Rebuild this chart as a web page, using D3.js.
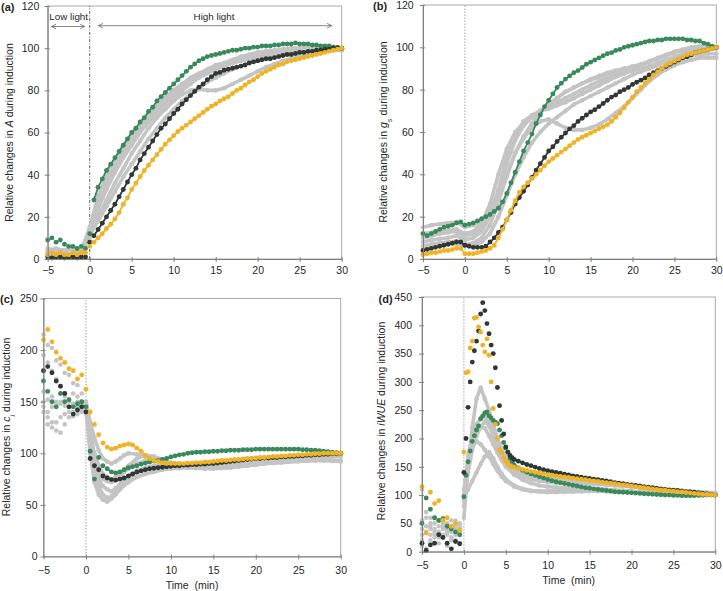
<!DOCTYPE html>
<html><head><meta charset="utf-8">
<script src="https://cdn.jsdelivr.net/npm/d3@7"></script>
<style>body{margin:0;background:#fff}svg{display:block}</style>
</head><body><svg id="chart" width="723" height="591"></svg>
<script>
// ---------- time grids ----------
const timeHalf = [-5,-4.5,-4,-3.5,-3,-2.5,-2,-1.5,-1,-0.5,0,0.5,1,1.5,2,2.5,3,3.5,4,4.5,5,5.5,6,6.5,7,7.5,8,8.5,9,9.5,10,10.5,11,11.5,12,12.5,13,13.5,14,14.5,15,15.5,16,16.5,17,17.5,18,18.5,19,19.5,20,20.5,21,21.5,22,22.5,23,23.5,24,24.5,25,25.5,26,26.5,27,27.5,28,28.5,29,29.5,30];
const timeMinute = [-5,-4,-3,-2,-1,0,1,2,3,4,5,6,7,8,9,10,11,12,13,14,15,16,17,18,19,20,21,22,23,24,25,26,27,28,29,30];
const timeGrayCD = [-5,-4.5,-4,-3.5,-3,-2.5,-2,-1.5,-1,-0.5,0,0.5,1,1.5,2,2.5,3,3.5,4,4.5,5,6,7,8,9,10,11,12,13,14,15,16,17,18,19,20,21,22,23,24,25,26,27,28,29,30];
const timeD = [-5,-4.5,-4,-3.5,-3,-2.5,-2,-1.5,-1,-0.5,0,0.25,0.5,0.75,1,1.25,1.5,1.75,2,2.25,2.5,2.75,3,3.25,3.5,3.75,4,4.25,4.5,4.75,5,5.25,5.5,5.75,6,6.5,7,7.5,8,8.5,9,9.5,10,10.5,11,11.5,12,12.5,13,13.5,14,14.5,15,15.5,16,16.5,17,17.5,18,18.5,19,19.5,20,20.5,21,21.5,22,22.5,23,23.5,24,24.5,25,25.5,26,26.5,27,27.5,28,28.5,29,29.5,30];

const xTicks = [-5,0,5,10,15,20,25,30];
const yTicksAB = [0,20,40,60,80,100,120];
const yTicksC = [0,50,100,150,200,250];
const yTicksD = [0,50,100,150,200,250,300,350,400,450];

// ---------- panel (a): A ----------
const aGreen = [9,10,8,9,7,6,6,5,6,5,12, 28,34,38,42,45,48,51,54,57,60, 62,65,67,70,72,75,77,79,81,83, 85,87,89,91,92.5,94,95,96,96.5,97, 97.5,98,98.5,99,99,99.5,100,100,100.5,100.5, 101,101,101,101.5,101.5,102,102,102,102.5,102, 102,102,101.5,101.5,101,101,101,100.5,100.5,100];
const aDark = [1,0.5,1,1,0.5,1,1,0.5,1,1,8, 11,14,17,20,23,26,29.5,33,36.5,40, 43,47,50,53,56,59,62,64,66.5,69, 71,73.5,75.5,77.5,79.5,81.5,83,85,86.5,88, 88.5,89.5,90,90.5,91,91.5,92,93,93.5,94, 94.5,95,95,95.5,96,96.5,97,97,97.5,98, 98,98.5,98.5,99,99,99.5,99.5,100,100,100];
const aYellow = [2,3,2,3,2,2,3,2,3,3,6, 8,10,12,14.5,16.5,19,22,26,29,33, 36,39,42,44.5,47,49.5,52,54.5,56.5,58.5, 60.5,62,63.5,65,66.5,68,69.5,71,72.5,73.5, 75,76,77,78.5,80,81,82.5,84,85,86.5, 88,89,90,91,92,92.5,93.5,94,94.5,95, 95.5,96,96.5,97,97.5,98,98.5,99,99.5,100];
const aGray1 = [3,4,2,3,3,12, 28,37,45,52,58,63,68,72,76,80, 83,86,88,90,92,93,94.5,96,97,98, 98.5,99,99.5,100,100,100.5,100.5,100.5,100.5,100];
const aGray2 = [2,3,2,2,3,11, 24,33,41,48,54,60,65,69,73,77, 80,83,86,88,90,91.5,93,94,95,96, 97,97.5,98,98.5,99,99,99.5,99.5,100,100];
const aGray3 = [4,5,4,5,4,10, 20,28,36,43,50,56,62,67,71,75, 78,80,80.5,80,80,81,83,85,87,89, 91,92.5,94,95,96,97,98,98.5,99,99];
const aGray4 = [1,2,1,2,2,14, 26,34,42,49,55,61,66,71,75,79, 82,85,87.5,89.5,91,92.5,94,95,96,97, 97.5,98,98.5,99,99,99.5,99.5,100,100,100];
const aGray5 = [3,2,3,2,2,12, 18,25,32,39,45,51,57,62,67,71, 75,78,81,84,86,88,90,91.5,93,94, 95,96,96.5,97,97.5,98,98.5,99,99,99];
const aGray6 = [5,4,4,5,4,15, 30,39,47,54,59,64,69,73,77,80, 83,85,87,89,90.5,92,93,94,95,95.5, 96,96.5,97,97.5,98,98,98.5,99,99,99];

// ---------- panel (b): gs ----------
const bGreen = [12,11,12,13,14,15,15.5,16,17,17.5,16, 16.5,17,18,19,20,21,22.5,24,27,31, 36,41,46,51,55,59,64,68,72,75, 78,81,83,85,86.5,88,89,90.5,92,93, 94,95,96,97,97.5,98.5,99,100,100.5,101, 101.5,102,102.5,103,103,103.5,103.5,104,104,104, 104,104,103.5,103.5,103,103,102,101.5,100.5,100];
const bDark = [4,4.5,5,5.5,6,6.5,7,7.5,8,8,6.5, 6,5.5,5.5,5.5,6,8,10,12.5,15,18.5, 22,26,29,32,35,38.5,42,45,48,51, 53,55.5,57.5,59.5,61.5,63,65,66.5,68,69.5, 70.5,72,73.5,75,76.5,77.5,79,80,81,82.5, 83.5,84.5,85.5,87,88,89,90,91,92,93, 94,95,95.5,96.5,97.5,98,98.5,99,99.5,100];
const bYellow = [2,2.5,3,3,3.5,4,4,4.5,5,5,2.5, 2.5,2.5,3,3.5,4,5,6.5,10,14,18.5, 23,27.5,31.5,34,36,38,40,42,44,46, 47.5,49,50.5,52,53.5,55,56.5,57.5,58.5,59.5, 60.5,61.5,62.5,63.5,65,67,69,71.5,74,76.5, 79,81,83,85,87,88.5,90,91.5,92.5,93.5, 94.5,95.5,96.5,97,97.5,98,98.5,99,99.5,100];
const bGray1 = [15,16,16.5,17,17.5,15, 16,18,22,32,45,56,63,67,70,72, 74,76,78,80,82,84,85.5,87,88,89, 90,91,92.5,94,95.5,97,98,99,99.5,100];
const bGray2 = [8,9,9.5,10,11,9, 10,13,20,33,48,59,65,68,70,71, 72.5,74,76,78,80,82,84,86,87.5,89, 90,91,92,93,94,95,96,96.5,97,97];
const bGray3 = [6,7,7.5,8,8.5,7, 7.5,10,16,27,39,50,57,62,65,66, 64,62,61,61,62,63.5,66,69,72,76, 80,84,87,89.5,91.5,93,94,95,95,95];
const bGray4 = [10,11,12,12.5,13,11, 12,15,21,30,40,50,58,64,69,73, 76,79,81,83,85,86.5,88,89,90,91, 92,93.5,95,96.5,98,99,100,100.5,100.5,100];
const bGray5 = [5,6,6,7,7,6, 6.5,8,12,20,30,40,48,55,60,64, 67,70,73,75,77,79,81,83,85,87, 88.5,90,91.5,93,94.5,96,97,98,99,99.5];
const bGray6 = [12,12.5,13,13.5,14,12, 13,17,26,40,52,60,64,67,70,73, 76,79,81,83,84.5,86,87,88,89,90, 91.5,93,94.5,96,97.5,98.5,99.5,100,100,100];

// ---------- panel (c): ci ----------
const cYellow = [210,220,208,198,192,188,182,180,172,176,162, 140,128,118,110,106,104,105,107,108,109, 108,105,102,98,95,93,92,91,90,90, 90,90,90,90.5,90.5,91,91,91.5,91.5,92, 92.5,93,93,93.5,94,94,94.5,95,95,95.5, 96,96,96.5,97,97,97.5,97.5,98,98,98.5, 98.5,99,99,99.5,99.5,100,100,100,100,100];
const cGreen = [170,160,150,145,158,150,152,145,148,150,145, 102,75,96,88,85,82,81,82,84,86, 87,88,89.5,90.5,91.5,92.5,93,94,95,96.5, 97.5,98.5,99,100,100.5,101,101,101.5,101.5,102, 102,102.5,102.5,103,103,103,103.5,103.5,103.5,104, 104,104,104,104,104,104,104,104,104,104, 103.5,103.5,103,103,102.5,102,101.5,101,100.5,100];
const cDark = [180,184,178,170,165,158,145,138,142,145,140, 95,88,84,78,76,74.5,74,75,76,78, 80,82,83,84,85,85.5,86,86.5,87,87.5, 88,88,88.5,88.5,89,89,89.5,89.5,90,90, 90.5,91,91.5,92,92.5,93,93.5,94,94.5,95, 95,95.5,95.5,96,96,96.5,96.5,97,97,97.5, 97.5,98,98,98.5,98.5,99,99,99.5,99.5,100];
const cGray1 = [215,205,202,190,186,178,176,168,166,158,150, 130,115,103,95,92,90,92,95,98,100, 99,97,94,92,90,89,88,88,88,88.5,89,89.5,90,90.5,91,91.5,92,92.5,93,93,93,93,93,92.5,92];
const cGray2 = [150,140,145,150,148,155,152,158,155,150,148, 110,80,68,60,57,58,62,68,72,76, 81,84,86,87,87.5,88,88,88,88,88.5,89,89.5,90,91,92,93,94,95,96,97,97.5,98,98.5,99,99];
const cGray3 = [140,128,125,130,135,138,140,136,138,140,142, 100,72,60,55,53,56,60,65,69,72, 77,80,82,84,85,85.5,86,86,86,86,86.5,87,87.5,88,89,90,90.5,91,91.5,92,92.5,93,93,93,93];
const cGray4 = [160,152,155,148,150,146,145,148,150,147,145, 115,90,80,75,73,72,74,78,82,85, 90,93,94,92,89,87,86,85.5,85,85,85.5,86,87,88,89,90,91,92,93,94,95,96,97,98,98];
const cGray5 = [195,188,180,172,165,158,150,148,145,148,150, 120,100,88,80,77,75,77,80,84,88, 95,98,97,94,91,90,89,88.5,88.5,89,89.5,90,91,92,93,94,95,95.5,96,96.5,97,97.5,98,98.5,99];
const cGray6 = [145,135,130,122,120,128,135,140,145,142,140, 110,85,75,68,65,63,66,70,74,78, 83,86,88,89,89,89,89,89,89.5,90,90,90.5,91,91.5,92,92.5,93,93.5,94,94.5,95,95.5,96,96.5,97];

// ---------- panel (d): iWUE ----------
const dDark = [15,2,12,15,30,25,15,5,18,14,140, 200,255,300,335,355,372,390,420,440,426,403,385,365,350,325,290,258,232,208,185,176,170,166,163, 160,157,154,152,149.5,147,145,143,141.5,140,138.5,137,135.5,134,133,131.5,130.5,129.5,128,127,126,125,123.5,122,121,120,119,118,117,116,115,114,113,112,111,110,109,108.5,108,107,106,105.5,105,104,103,102,101,100];
const dYellow = [115,33,105,85,90,55,60,45,50,38,176, 316,318,360,372,413,414,397,388,365,353,376,347,300,253,225,200,180,175,166,160,155,152,150,149, 147,145.5,144,142,140.5,139,137.5,136,135,134,133,132,131,130,129,128,127,126,125,124,123,122,121,120,119,118,117,116,115,114,113,112,111,110,109,108.5,107.5,107,106,105.5,104.5,104,103,102.5,101.5,101,100.5,100];
const dGreen = [50,95,75,60,55,58,45,40,35,30,97, 135,159,178,195,205,215,222,235,240,245,247,240,236,232,229,226,215,205,193,183,176,165,158,153, 148,144,140.5,137.5,135,132.5,130,127.5,125.5,123.5,122,120.5,119,117.5,116,114.5,113,112,111,110,109,108,107,106,105.5,105,104.5,104,103.5,103,102.5,102,101.5,101,100.5,100,100,99.5,99.5,99,99,99,99,99.5,99.5,100,100,100];
const dGray1 = [30,45,60,40,35,50,30,45,40,35,60, 150,220,270,290,270,250,225,200,182,168, 152,143,137,133,130,128,126,124,122,121,120,119,117.5,116,115,113.5,112,111,110,109,108,107,106,105,104];
const dGray2 = [20,95,50,30,45,60,35,55,30,40,100, 170,205,225,235,240,228,210,190,175,163, 148,139,134,131,129,128,127.5,127,127,126,124,122,120,118,116,114,112.5,111,109.5,108,107,106,105,104,103];
const dGray3 = [110,60,40,25,55,40,50,25,45,30,80, 150,190,210,222,218,205,190,175,162,150, 136,127,121,117,115,114,113,112.5,112,111.5,111,110,109,108,107,106,105.5,105,104,103.5,103,102.5,102,101.5,101];
const dGray4 = [10,5,20,35,15,30,10,25,20,15,110, 160,185,195,190,180,168,155,143,133,125, 115,110,107,106,105,105,105.5,106,106.5,107,107,106.5,106,105.5,105,104.5,104,103.5,103,102.5,102,101.5,101,100.5,100];
const dGray5 = [40,70,30,50,25,45,35,20,50,45,95, 110,125,140,155,168,176,165,150,138,128, 117,111,108,107,107,107.5,108,108.5,109,109,108.5,108,107,106.5,106,105.5,105,104.5,104,103.5,103,102.5,102,101.5,101];
const dGray6 = [55,35,45,60,30,55,40,35,55,50,90, 140,180,205,220,230,222,205,185,170,157, 142,133,128,125,123,122,121,120.5,120,119.5,119,118,117,116,115,113.5,112,110.5,109,108,107,106,105,104,103];

// ---------- styling ----------
const FONT = "'Liberation Sans', Arial, Helvetica, sans-serif";
const C = {gray:"#c4c4c4", green:"#39895c", dark:"#2f3834", yellow:"#efb325", axis:"#7f7f7f", frame:"#a9a9a9", text:"#262626"};

const panels = [
  {label:"(a)", left:47.7, right:341.7, top:6, bottom:259, ymax:120, yTicks:yTicksAB, padY:5.4, padX:5,
   colorTime:timeHalf, green:aGreen, dark:aDark, yellow:aYellow, colorLineFrom:0.5,
   grayTime:timeMinute, gray:[aGray1,aGray2,aGray3,aGray4,aGray5,aGray6], grayLineFrom:-5,
   zeroStroke:"#555", zeroDash:"3,1.5,1,1.5",
   labelPos:[1,10.5], yLabelPos:[13,132.5], yLabel:[["Relative changes in ",""],["A","i"],[" during induction",""]]},
  {label:"(b)", left:423, right:716.3, top:5, bottom:259, ymax:120, yTicks:yTicksAB, padY:6.3, padX:5,
   colorTime:timeHalf, green:bGreen, dark:bDark, yellow:bYellow, colorLineFrom:-5,
   grayTime:timeMinute, gray:[bGray1,bGray2,bGray3,bGray4,bGray5,bGray6], grayLineFrom:-5,
   zeroStroke:"#9a9a9a", zeroDash:"1.5,1.5",
   labelPos:[373,10], yLabelPos:[387,132], yLabel:[["Relative changes in ",""],["g","i"],["s","sub"],[" during induction",""]]},
  {label:"(c)", left:43.5, right:340.7, top:298.5, bottom:556.5, ymax:250, yTicks:yTicksC, padY:3, padX:7,
   colorTime:timeHalf, green:cGreen, dark:cDark, yellow:cYellow, colorLineFrom:2.5,
   grayTime:timeGrayCD, gray:[cGray1,cGray2,cGray3,cGray4,cGray5,cGray6], grayLineFrom:0,
   zeroStroke:"#9a9a9a", zeroDash:"1.5,1.5",
   labelPos:[0,303], yLabelPos:[10,427], yLabel:[["Relative changes in ",""],["c","i"],["i","sub"],[" during induction",""]],
   xTitle:true},
  {label:"(d)", left:422, right:715.3, top:297, bottom:551.7, ymax:450, yTicks:yTicksD, padY:7, padX:7,
   colorTime:timeD, green:dGreen, dark:dDark, yellow:dYellow, colorLineFrom:5.5,
   grayTime:timeGrayCD, gray:[dGray1,dGray2,dGray3,dGray4,dGray5,dGray6], grayLineFrom:0,
   zeroStroke:"#9a9a9a", zeroDash:"1.5,1.5",
   labelPos:[378.5,302.5], yLabelPos:[385,421], yLabel:[["Relative changes in ",""],["iWUE","i"],[" during induction",""]],
   xTitle:true}
];

const svg = d3.select("#chart");
svg.append("rect").attr("width",723).attr("height",591).attr("fill","#fff");

function zip(ts, vs){ const n=Math.min(ts.length, vs.length); const out=[]; for(let i=0;i<n;i++) out.push({t:ts[i], v:vs[i]}); return out; }

panels.forEach(p => {
  const g = svg.append("g");
  const x = d3.scaleLinear().domain([-5,30]).range([p.left,p.right]);
  const y = d3.scaleLinear().domain([0,p.ymax]).range([p.bottom,p.top]);

  g.append("rect").attr("x",p.left).attr("y",p.top).attr("width",p.right-p.left).attr("height",p.bottom-p.top)
    .attr("fill","none").attr("stroke",C.frame).attr("stroke-width",1);

  g.append("line").attr("x1",x(0)).attr("x2",x(0)).attr("y1",y(0)).attr("y2",y(p.ymax))
    .attr("stroke",p.zeroStroke).attr("stroke-width",0.9).attr("stroke-dasharray",p.zeroDash);

  const line = d3.line().x(d=>x(d.t)).y(d=>y(d.v));

  // gray series
  p.gray.forEach(arr => {
    const pts = zip(p.grayTime, arr);
    g.append("path").datum(pts.filter(d=>d.t>=p.grayLineFrom)).attr("d",line)
      .attr("fill","none").attr("stroke",C.gray).attr("stroke-width",3.6)
      .attr("stroke-linejoin","round").attr("stroke-linecap","round");
    g.append("g").selectAll("circle").data(pts).join("circle")
      .attr("cx",d=>x(d.t)).attr("cy",d=>y(d.v)).attr("r",2.3).attr("fill",C.gray);
  });

  // coloured series
  [["green",p.green],["dark",p.dark],["yellow",p.yellow]].forEach(([k,arr]) => {
    const pts = zip(p.colorTime, arr);
    g.append("path").datum(pts.filter(d=>d.t>=p.colorLineFrom)).attr("d",line)
      .attr("fill","none").attr("stroke",C[k]).attr("stroke-width",1.8)
      .attr("stroke-linejoin","round");
    g.append("g").selectAll("circle").data(pts).join("circle")
      .attr("cx",d=>x(d.t)).attr("cy",d=>y(d.v)).attr("r",2.45).attr("fill",C[k]);
  });

  // axes
  const ya = g.append("g").attr("transform",`translate(${p.left},0)`)
    .call(d3.axisLeft(y).tickValues(p.yTicks).tickSizeInner(3).tickSizeOuter(0).tickPadding(p.padY));
  const xa = g.append("g").attr("transform",`translate(0,${p.bottom})`)
    .call(d3.axisBottom(x).tickValues(xTicks).tickSizeInner(3).tickSizeOuter(0).tickPadding(p.padX));
  [ya,xa].forEach(a => {
    a.attr("font-family",FONT).attr("font-size",10.5);
    a.select(".domain").attr("stroke",C.axis);
    a.selectAll(".tick line").attr("stroke",C.axis);
    a.selectAll(".tick text").attr("fill",C.text);
  });
  ya.selectAll(".tick line").attr("x1",2);
  xa.selectAll(".tick line").attr("y1",-2);

  // panel label
  g.append("text").attr("x",p.labelPos[0]).attr("y",p.labelPos[1]).attr("font-family",FONT)
    .attr("font-size",11).attr("font-weight","bold").attr("fill",C.text).text(p.label);

  // y title
  const yt = g.append("text").attr("transform",`translate(${p.yLabelPos[0]},${p.yLabelPos[1]}) rotate(-90)`)
    .attr("text-anchor","middle").attr("font-family",FONT).attr("font-size",10.5).attr("fill",C.text);
  p.yLabel.forEach(([s,st]) => {
    const ts = yt.append("tspan").text(s);
    if (st==="i") ts.attr("font-style","italic");
    if (st==="sub") ts.attr("font-size",7.5).attr("baseline-shift","sub").attr("font-style","italic");
  });

  if (p.xTitle) {
    g.append("text").attr("x",(p.left+p.right)/2).attr("y",p.bottom+32).attr("text-anchor","middle")
      .attr("font-family",FONT).attr("font-size",10.5).attr("fill",C.text).text("Time  (min)")
      .attr("xml:space","preserve").style("white-space","pre");
  }

  // light-phase annotations in panel (a)
  if (p.label==="(a)") {
    const ann = [
      {text:"Low light", t0:-4.55, t1:-0.6, tc:-2.5},
      {text:"High light", t0:1.05, t1:28.8, tc:14.8}
    ];
    ann.forEach(a => {
      g.append("text").attr("x",x(a.tc)).attr("y",19.5).attr("text-anchor","middle")
        .attr("font-family",FONT).attr("font-size",9.8).attr("fill",C.text).text(a.text);
      const yy = a.text==="Low light" ? 26.5 : 25.7;
      const xa0 = x(a.t0), xa1 = x(a.t1);
      const path = `M${xa0},${yy}H${xa1} M${xa0+4.5},${yy-2.3}L${xa0},${yy}L${xa0+4.5},${yy+2.3} M${xa1-4.5},${yy-2.3}L${xa1},${yy}L${xa1-4.5},${yy+2.3}`;
      g.append("path").attr("d",path).attr("fill","none").attr("stroke","#666").attr("stroke-width",0.8);
    });
  }
});
</script>
</body></html>
